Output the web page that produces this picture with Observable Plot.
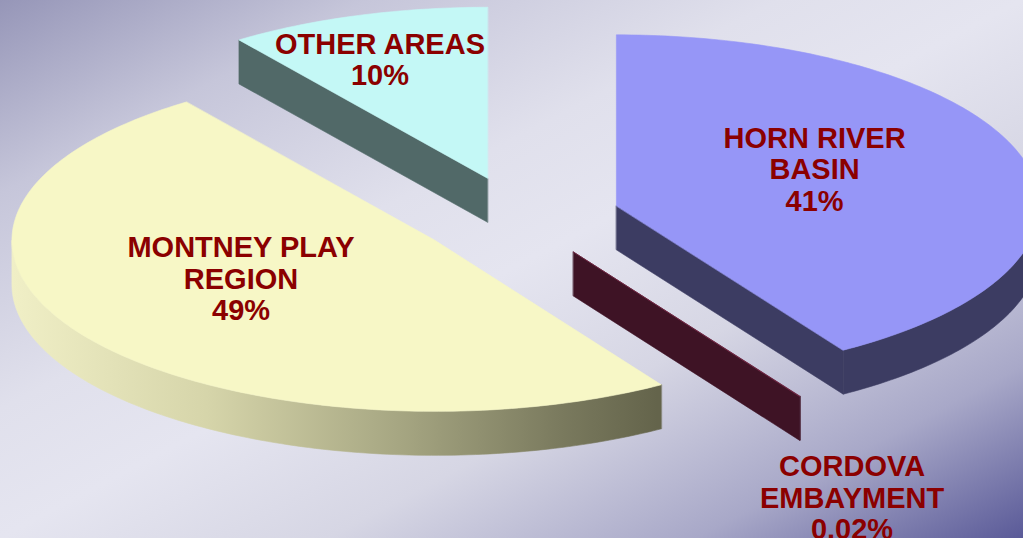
<!DOCTYPE html>
<html>
<head>
<meta charset="utf-8">
<script src="https://cdn.jsdelivr.net/npm/d3@7"></script>
<script src="https://cdn.jsdelivr.net/npm/@observablehq/plot@0.6"></script>
<style>
  html, body { margin: 0; padding: 0; overflow: hidden; background: #e4e4ef; }
  #chart svg { display: block; overflow: hidden; }
</style>
</head>
<body>
<div id="chart"></div>
<script>
// ---- data ----
const categories = ["HORN RIVER BASIN", "CORDOVA EMBAYMENT", "MONTNEY PLAY REGION", "OTHER AREAS"];
const labelLines = ["HORN RIVER\nBASIN", "CORDOVA\nEMBAYMENT", "MONTNEY PLAY\nREGION", "OTHER AREAS"];
const shares = [41, 0.02, 49, 10];
const shareLabels = ["41%", "0.02%", "49%", "10%"];
const topColors = ["#9696f7", "#6e2440", "#f7f7c6", "#c4f8f6"];
const sideColors = ["#3c3c62", "#3e1325", "#c0c09a", "#516968"];

// ---- layout (not data) ----
const W = 1023, H = 538;
const cx = 518.4, cy = 216.8;      // pie centre
const rx = 423, ry = 171;          // projected radii
const depth = 44;                  // thickness
const explode = 0.24;              // explosion as fraction of radius
const labelF = [[0.488, 0.77], [1.23, 1.70], [0.554, 0.397], [0.823, 0.732]];

const deg = Math.PI / 180;
const pie = d3.pie().sort(null).value(d => d)(shares);

const sideRows = [], topRows = [], labelRows = [];
pie.forEach((p, i) => {
  const a0 = p.startAngle, a1 = p.endAngle, mid = (a0 + a1) / 2;
  const ax = cx + explode * rx * Math.sin(mid);
  const ay = cy - explode * ry * Math.cos(mid);
  const rim = a => [ax + rx * Math.sin(a), ay - ry * Math.cos(a)];
  const arc = (s, e) => {
    const n = Math.max(2, Math.ceil((e - s) / deg));
    return d3.range(n + 1).map(k => rim(s + (e - s) * k / n));
  };
  // radial side faces that face the viewer
  const radial = (a, id) => {
    const r = rim(a);
    [[ax, ay], r, [r[0], r[1] + depth], [ax, ay + depth]]
      .forEach(([x, y]) => sideRows.push({id, slice: i, x, y}));
  };
  if (Math.sin(a0) < -1e-9) radial(a0, `r0-${i}`);
  if (Math.sin(a1) > 1e-9) radial(a1, `r1-${i}`);
  // outer curved side (front half only)
  const s = Math.max(a0, Math.PI / 2), e = Math.min(a1, 3 * Math.PI / 2);
  if (e > s) {
    const pts = arc(s, e);
    pts.forEach(([x, y]) => sideRows.push({id: `c-${i}`, slice: i, x, y}));
    pts.slice().reverse().forEach(([x, y]) => sideRows.push({id: `c-${i}`, slice: i, x, y: y + depth}));
  }
  // top face
  [[ax, ay], ...arc(a0, a1)].forEach(([x, y]) => topRows.push({id: `t-${i}`, slice: i, x, y}));
  // label
  labelRows.push({
    x: ax + labelF[i][0] * rx * Math.sin(mid),
    y: ay - labelF[i][1] * ry * Math.cos(mid),
    text: `${labelLines[i]}\n${shareLabels[i]}`
  });
});

const marks = [];
categories.forEach((c, i) => {
  marks.push(Plot.line(sideRows.filter(d => d.slice === i), {
    x: "x", y: "y", z: "id", curve: "linear-closed",
    fill: sideColors[i], stroke: sideColors[i], strokeWidth: 0.6
  }));
});
categories.forEach((c, i) => {
  marks.push(Plot.line(topRows.filter(d => d.slice === i), {
    x: "x", y: "y", z: "id", curve: "linear-closed",
    fill: topColors[i], stroke: topColors[i], strokeWidth: 0.6
  }));
});
marks.push(Plot.text(labelRows, {
  x: "x", y: "y", text: "text",
  fill: "#8b0000", fontSize: 29, fontWeight: "bold",
  fontFamily: "'Liberation Sans', Arial, sans-serif",
  lineHeight: 1.09, textAnchor: "middle"
}));

const chart = Plot.plot({
  width: W, height: H,
  marginTop: 0, marginRight: 0, marginBottom: 0, marginLeft: 0,
  x: {domain: [0, W], range: [0, W], axis: null},
  y: {domain: [0, H], range: [0, H], axis: null},
  style: {
    background: "linear-gradient(to bottom right, #9696b8 0%, #c6c6da 18%, #e0e0ec 38%, #e5e5f0 50%, #d6d6e4 66%, #a8a8c8 84%, #5a5a98 100%)",
    overflow: "hidden"
  },
  marks
});

// gradient for the Montney side face
const svg = d3.select(chart);
const defs = svg.insert("defs", ":first-child");
const g = defs.append("linearGradient").attr("id", "montneySide")
  .attr("gradientUnits", "userSpaceOnUse")
  .attr("x1", 12).attr("y1", 0).attr("x2", 657).attr("y2", 0);
[[0, "#f0efc6"], [0.3, "#d6d5aa"], [0.6, "#a6a682"], [0.85, "#7a7a5e"], [1, "#64644b"]]
  .forEach(([o, col]) => g.append("stop").attr("offset", o).attr("stop-color", col));
svg.selectAll(`[fill="${sideColors[2]}"]`).attr("fill", "url(#montneySide)").attr("stroke", "url(#montneySide)");

document.getElementById("chart").appendChild(chart);
</script>
</body>
</html>
